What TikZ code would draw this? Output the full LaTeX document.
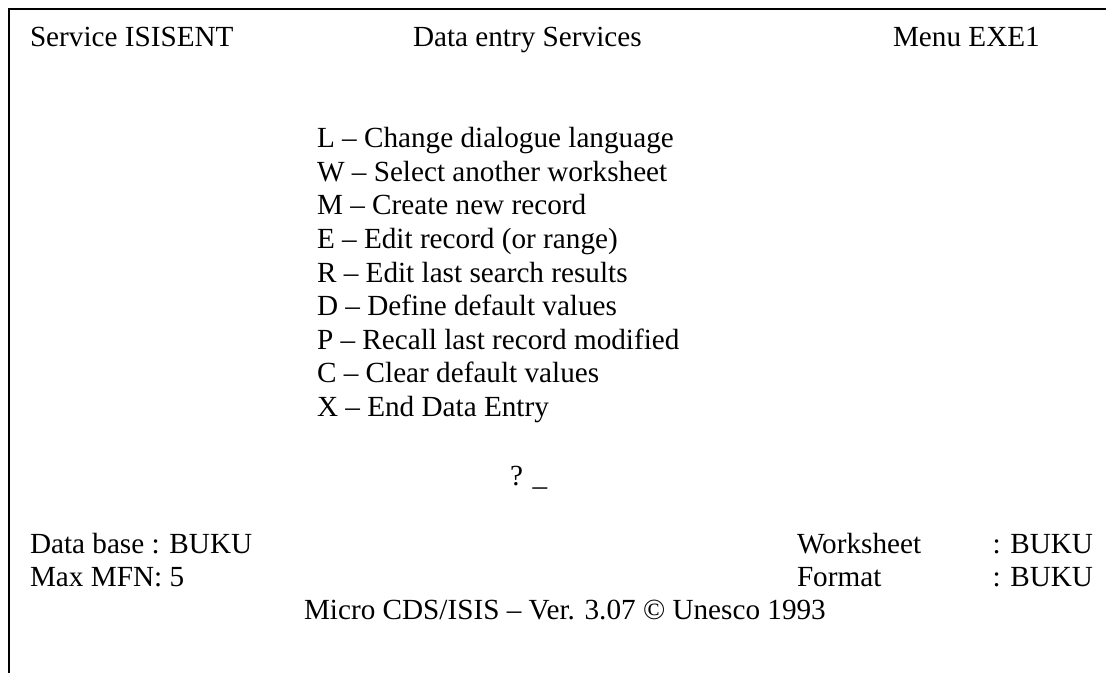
\documentclass[tikz,border=0pt]{standalone}
\usepackage{fontspec}
\setmainfont{Liberation Serif}
\begin{document}
\begin{tikzpicture}[x=1pt,y=-1pt,
  txt/.style={anchor=base west,inner sep=0pt,outer sep=0pt,font=\fontsize{29.2}{33}\selectfont},
  frame/.style={line width=2pt,line join=miter}]
\useasboundingbox (0,0) rectangle (1106,673);
\draw[frame] (1106,9.3) -- (9.3,9.3) -- (9.3,673);
% header
\node[txt] (svc) at (30,46.5) {Service ISISENT};
\node[txt] (title) at (413,46.5) {Data entry Services};
\node[txt] (menu) at (893,46.5) {Menu EXE1};
% menu items
\node[txt] (mL) at (317,147.7) {L – Change dialogue language};
\node[txt] (mW) at (317,181.3) {W – Select another worksheet};
\node[txt] (mM) at (317,214.9) {M – Create new record};
\node[txt] (mE) at (317,248.5) {E – Edit record (or range)};
\node[txt] (mR) at (317,282.1) {R – Edit last search results};
\node[txt] (mD) at (317,315.7) {D – Define default values};
\node[txt] (mP) at (317,349.3) {P – Recall last record modified};
\node[txt] (mC) at (317,382.9) {C – Clear default values};
\node[txt] (mX) at (317,416.5) {X – End Data Entry};
% prompt
\node[txt] (prompt) at (510,485) {? \_};
% footer
\node[txt] (db) at (30,553.3) {Data base : BUKU};
\node[txt] (mfn) at (30,586) {Max MFN: 5};
\node[txt] (ws) at (797,553.3) {Worksheet};
\node[txt] (wsv) at (992.5,553.3) {: BUKU};
\node[txt] (fmt) at (797,586) {Format};
\node[txt] (fmtv) at (992.5,586) {: BUKU};
\node[txt] (ver) at (304,619) {Micro CDS/ISIS – Ver. 3.07 © Unesco 1993};
\end{tikzpicture}
\end{document}
